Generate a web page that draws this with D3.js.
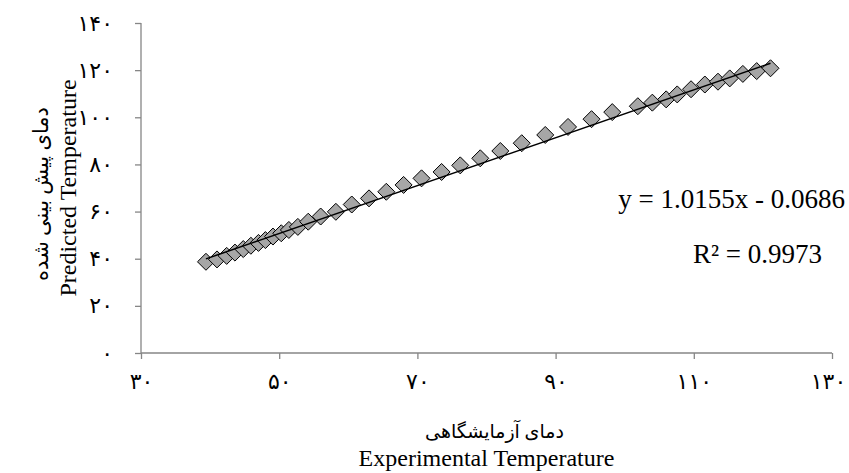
<!DOCTYPE html>
<html>
<head>
<meta charset="utf-8">
<script src="https://cdn.jsdelivr.net/npm/d3@7"></script>
<style>
  body { margin: 0; background: #fff; }
  svg { display: block; }
</style>
</head>
<body>
<div id="chart"></div>
<script>
// experimental vs predicted temperature
const experimental = [39.4, 41.0, 42.4, 43.6, 44.8, 45.9, 47.0, 48.0, 49.1, 50.3,
  51.4, 52.7, 54.2, 56.0, 58.2, 60.5, 63.0, 65.5, 68.0, 70.6,
  73.5, 76.2, 79.1, 82.0, 85.1, 88.5, 91.8, 95.2, 98.2, 101.9,
  104.0, 106.0, 107.6, 109.6, 111.6, 113.5, 115.2, 117.1, 119.1, 121.1];
const predicted = [38.7, 39.7, 41.2, 42.6, 44.1, 45.5, 46.7, 47.9, 49.4, 50.8,
  52.2, 53.5, 55.7, 57.9, 59.9, 63.0, 65.6, 68.4, 71.3, 74.1,
  76.8, 79.6, 82.6, 85.7, 89.0, 92.5, 95.9, 99.2, 102.2, 104.7,
  106.2, 107.6, 109.7, 111.9, 113.9, 115.1, 116.5, 118.4, 119.6, 120.8];
const xTicks = [30, 50, 70, 90, 110, 130];
const yTicks = [0, 20, 40, 60, 80, 100, 120, 140];
const trendSlope = 1.0155;
const trendIntercept = -0.0686;
const equationText = "y = 1.0155x - 0.0686";
const r2Text = "R\u00b2 = 0.9973";
const xTitleFa = "دمای آزمایشگاهی";
const xTitleEn = "Experimental Temperature";
const yTitleFa = "دمای پیش بینی شده";
const yTitleEn = "Predicted Temperature";

// latin digits -> persian digits for tick labels
const faDigits = "۰۱۲۳۴۵۶۷۸۹";
function toPersian(n) {
  return String(n).replace(/\d/g, (c) => faDigits[+c]);
}

const width = 849, height = 473;
const margin = { left: 141, right: 17, top: 23, bottom: 120 };
const innerW = width - margin.left - margin.right;
const innerH = height - margin.top - margin.bottom;

const svg = d3.select("#chart").append("svg")
  .attr("width", width).attr("height", height);

const ChartArea = svg.append("g")
  .attr("transform", `translate(${margin.left},${margin.top})`);

const x = d3.scaleLinear().domain([30, 130]).range([0, innerW]);
const y = d3.scaleLinear().domain([0, 140]).range([innerH, 0]);

const serif = "'Times New Roman', 'Liberation Serif', 'DejaVu Sans', serif";
const axisColor = "#868686";

// axes
const AxisX = ChartArea.append("g").attr("transform", `translate(0,${innerH})`)
  .call(d3.axisBottom(x).tickValues(xTicks).tickSize(6).tickPadding(14).tickFormat(toPersian));
const AxisY = ChartArea.append("g")
  .call(d3.axisLeft(y).tickValues(yTicks).tickSize(6).tickPadding(22).tickFormat(toPersian));

[AxisX, AxisY].forEach((a) => {
  a.select(".domain").attr("stroke", axisColor).attr("stroke-width", 1.3);
  a.selectAll(".tick line").attr("stroke", axisColor).attr("stroke-width", 1.3);
  a.selectAll(".tick text")
    .attr("fill", "#000")
    .style("font-family", serif)
    .style("font-size", "22px");
});
AxisX.select(".domain").attr("d", `M0,0H${innerW}`);
AxisY.select(".domain").attr("d", `M0,${innerH}V0`);
// last x label sits at the page edge, keep it inside
AxisX.selectAll(".tick text").filter((d) => d === 130).attr("dx", -4);

// markers
const points = experimental.map((v, i) => [v, predicted[i]]);
ChartArea.selectAll(".pt")
  .data(points)
  .join("path")
  .attr("class", "pt")
  .attr("d", "M0,-8.5L8.5,0L0,8.5L-8.5,0Z")
  .attr("transform", (d) => `translate(${x(d[0])},${y(d[1])})`)
  .attr("fill", "#a6a6a6")
  .attr("stroke", "#000")
  .attr("stroke-width", 1);

// linear trendline over the data range
const xExt = d3.extent(experimental);
ChartArea.append("line")
  .attr("x1", x(xExt[0])).attr("y1", y(trendSlope * xExt[0] + trendIntercept))
  .attr("x2", x(xExt[1])).attr("y2", y(trendSlope * xExt[1] + trendIntercept))
  .attr("stroke", "#000")
  .attr("stroke-width", 1.5);

// equation labels
svg.append("text")
  .attr("x", 845).attr("y", 208)
  .attr("text-anchor", "end")
  .style("font-family", serif).style("font-size", "27px")
  .text(equationText);
svg.append("text")
  .attr("x", 822).attr("y", 263)
  .attr("text-anchor", "end")
  .style("font-family", serif).style("font-size", "27px")
  .text(r2Text);

// axis titles
const cx = margin.left + innerW / 2;
svg.append("text")
  .attr("x", cx + 8).attr("y", 438)
  .attr("text-anchor", "middle")
  .attr("direction", "rtl")
  .style("font-family", serif).style("font-size", "19px")
  .text(xTitleFa);
svg.append("text")
  .attr("x", cx).attr("y", 466)
  .attr("text-anchor", "middle")
  .style("font-family", serif).style("font-size", "24px")
  .text(xTitleEn);

const cy = margin.top + innerH / 2;
svg.append("text")
  .attr("transform", `translate(48,${cy + 6}) rotate(-90)`)
  .attr("text-anchor", "middle")
  .attr("direction", "rtl")
  .style("font-family", serif).style("font-size", "21px")
  .text(yTitleFa);
svg.append("text")
  .attr("transform", `translate(76,${cy}) rotate(-90)`)
  .attr("text-anchor", "middle")
  .style("font-family", serif).style("font-size", "24px")
  .text(yTitleEn);
</script>
</body>
</html>
